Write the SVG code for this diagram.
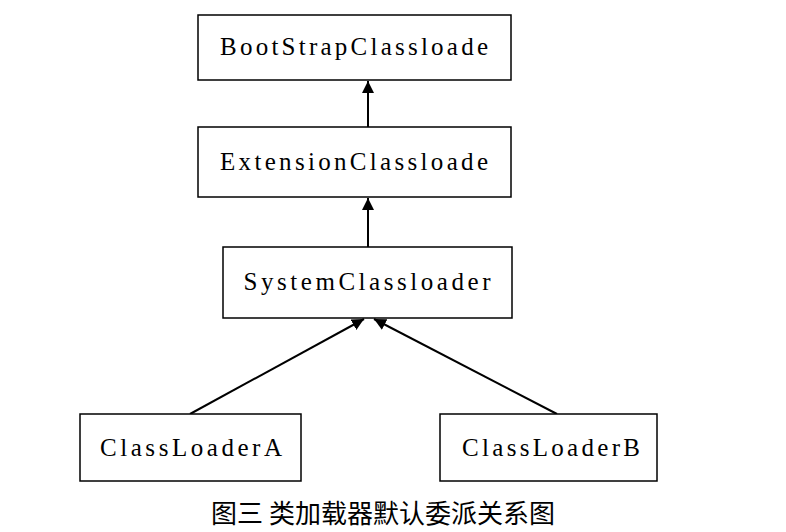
<svg xmlns="http://www.w3.org/2000/svg" width="786" height="532" viewBox="0 0 786 532">
<style>
.box{fill:#fff;stroke:#000;stroke-width:1.5}
.t{font-family:"Liberation Serif",serif;font-size:25px;text-anchor:middle;fill:#000}
.c{stroke:#000;stroke-width:2;fill:none}
.cap{font-family:"Noto Sans CJK SC",sans-serif;font-size:26px;text-anchor:middle;fill:#000}
</style>
<defs><marker id="ah" viewBox="0 0 10 10" refX="10" refY="5" markerWidth="6" markerHeight="6" orient="auto"><path d="M0,0L10,5L0,10z" fill="#000"/></marker></defs>
<rect width="786" height="532" fill="#fff"/>
<g id="connectors">
<line class="c" x1="368" y1="127" x2="368" y2="81" marker-end="url(#ah)"/>
<line class="c" x1="368" y1="247" x2="368" y2="198" marker-end="url(#ah)"/>
<line class="c" x1="190" y1="414" x2="364" y2="319" marker-end="url(#ah)"/>
<line class="c" x1="557" y1="414" x2="374" y2="319" marker-end="url(#ah)"/>
</g>
<g id="boot"><rect class="box" x="198" y="15" width="313" height="65"/><text class="t" x="354" y="55" textLength="268" lengthAdjust="spacing">BootStrapClassloade</text></g>
<g id="ext"><rect class="box" x="198" y="127" width="313" height="70"/><text class="t" x="354" y="170" textLength="268" lengthAdjust="spacing">ExtensionClassloade</text></g>
<g id="sys"><rect class="box" x="223" y="247" width="289" height="71"/><text class="t" x="367" y="290" textLength="247" lengthAdjust="spacing">SystemClassloader</text></g>
<g id="a"><rect class="box" x="80" y="414" width="221" height="67"/><text class="t" x="191" y="456" textLength="182" lengthAdjust="spacing">ClassLoaderA</text></g>
<g id="b"><rect class="box" x="440" y="414" width="217" height="67"/><text class="t" x="551" y="456" textLength="178" lengthAdjust="spacing">ClassLoaderB</text></g>
<text class="cap" x="383" y="523">图三 类加载器默认委派关系图</text>
</svg>
